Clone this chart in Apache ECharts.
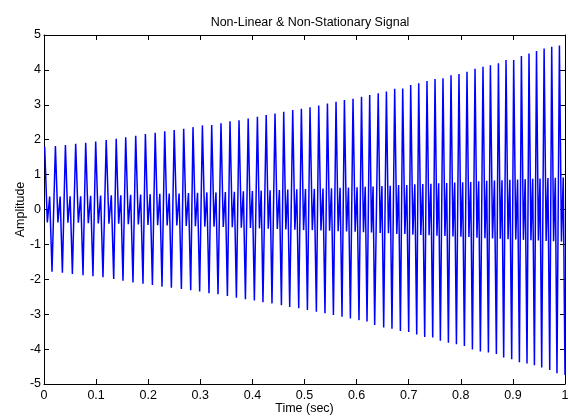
<!DOCTYPE html>
<html>
<head>
<meta charset="utf-8">
<script src="https://cdn.jsdelivr.net/npm/echarts@6/dist/echarts.min.js"></script>
<style>html,body{margin:0;padding:0;background:#fff;}#c{width:568px;height:416px;}</style>
</head>
<body>
<div id="c"></div>
<script>
// Big positive peaks (time in s, amplitude)
const peakT = [0.0013,0.0219,0.0411,0.0608,0.0800,0.0992,0.1194,0.1386,0.1568,0.1760,
  0.1946,0.2134,0.2317,0.2499,0.2681,0.2860,0.3040,0.3219,0.3397,0.3570,
  0.3743,0.3919,0.4096,0.4265,0.4434,0.4601,0.4774,0.4940,0.5106,0.5273,
  0.5440,0.5605,0.5766,0.5931,0.6094,0.6251,0.6415,0.6572,0.6731,0.6885,
  0.7038,0.7192,0.7351,0.7505,0.7658,0.7812,0.7965,0.8119,0.8273,0.8426,
  0.8568,0.8722,0.8868,0.9015,0.9163,0.9309,0.9453,0.9599,0.9745,0.9893];
const peakV = [1.80,1.82,1.85,1.88,1.91,1.95,1.99,2.03,2.07,2.11,
  2.16,2.20,2.24,2.28,2.31,2.36,2.41,2.42,2.47,2.53,
  2.56,2.61,2.66,2.71,2.75,2.80,2.85,2.89,2.93,2.98,
  3.04,3.09,3.14,3.17,3.23,3.28,3.33,3.38,3.46,3.47,
  3.57,3.62,3.68,3.74,3.76,3.85,3.88,3.95,4.03,4.09,
  4.13,4.19,4.28,4.28,4.40,4.47,4.54,4.61,4.66,4.70];
// Small notch inside each falling stroke (low then high)
const notchLowT = [0.0064,0.0267,0.0459,0.0659,0.0850,0.1042,0.1246,0.1433,0.1618,0.1810,
  0.1995,0.2181,0.2363,0.2549,0.2730,0.2906,0.3086,0.3263,0.3441,0.3614,
  0.3787,0.3962,0.4135,0.4305,0.4478,0.4642,0.4815,0.4982,0.5150,0.5316,
  0.5481,0.5646,0.5807,0.5972,0.6132,0.6286,0.6453,0.6611,0.6771,0.6926,
  0.7080,0.7233,0.7391,0.7542,0.7695,0.7849,0.8002,0.8156,0.8310,0.8463,
  0.8609,0.8758,0.8907,0.9055,0.9202,0.9346,0.9489,0.9638,0.9781,0.9932];
const notchHighT = [0.0109,0.0310,0.0502,0.0704,0.0895,0.1087,0.1292,0.1474,0.1663,0.1855,
  0.2038,0.2223,0.2404,0.2593,0.2773,0.2947,0.3126,0.3301,0.3481,0.3654,
  0.3827,0.4000,0.4169,0.4340,0.4518,0.4679,0.4852,0.5019,0.5189,0.5355,
  0.5518,0.5683,0.5844,0.6009,0.6166,0.6316,0.6486,0.6645,0.6806,0.6963,
  0.7117,0.7270,0.7426,0.7575,0.7729,0.7883,0.8036,0.8190,0.8343,0.8497,
  0.8646,0.8791,0.8942,0.9090,0.9236,0.9380,0.9521,0.9672,0.9814,0.9966];
const notchAmp = [0.37,0.37,0.38,0.38,0.39,0.40,0.41,0.41,0.42,0.43,
  0.44,0.45,0.46,0.46,0.47,0.48,0.49,0.49,0.50,0.51,
  0.52,0.53,0.54,0.55,0.56,0.57,0.58,0.59,0.59,0.60,
  0.61,0.62,0.63,0.64,0.65,0.66,0.67,0.68,0.70,0.70,
  0.72,0.73,0.74,0.75,0.76,0.77,0.78,0.79,0.81,0.82,
  0.83,0.84,0.85,0.86,0.87,0.88,0.89,0.90,0.91,0.92];
// Big negative troughs
const troughT = [0.0154,0.0353,0.0545,0.0749,0.0940,0.1132,0.1338,0.1516,0.1708,0.1900,
  0.2081,0.2265,0.2445,0.2637,0.2816,0.2988,0.3167,0.3340,0.3520,0.3693,
  0.3866,0.4038,0.4203,0.4376,0.4557,0.4716,0.4889,0.5056,0.5228,0.5393,
  0.5555,0.5720,0.5881,0.6046,0.6200,0.6347,0.6520,0.6679,0.6841,0.7000,
  0.7154,0.7307,0.7461,0.7608,0.7762,0.7916,0.8069,0.8223,0.8376,0.8530,
  0.8683,0.8823,0.8977,0.9125,0.9271,0.9413,0.9553,0.9707,0.9846,1.0000];
const troughV = [-1.78,-1.81,-1.85,-1.88,-1.91,-1.94,-1.99,-2.04,-2.09,-2.13,
  -2.16,-2.21,-2.24,-2.28,-2.31,-2.35,-2.40,-2.43,-2.48,-2.53,
  -2.57,-2.61,-2.66,-2.69,-2.74,-2.79,-2.83,-2.88,-2.93,-2.97,
  -3.02,-3.07,-3.12,-3.17,-3.21,-3.31,-3.38,-3.42,-3.48,-3.51,
  -3.58,-3.65,-3.67,-3.76,-3.82,-3.86,-3.91,-4.01,-4.07,-4.10,
  -4.14,-4.24,-4.29,-4.38,-4.41,-4.46,-4.53,-4.60,-4.69,-4.74];

const xTicks = [0,0.1,0.2,0.3,0.4,0.5,0.6,0.7,0.8,0.9,1];
const yTicks = [-5,-4,-3,-2,-1,0,1,2,3,4,5];

const signal = [];
for (let i = 0; i < peakT.length; i++) {
  signal.push([peakT[i], peakV[i]]);
  signal.push([notchLowT[i], -notchAmp[i]]);
  signal.push([notchHighT[i], notchAmp[i]]);
  signal.push([troughT[i], troughV[i]]);
}

const FONT = 'Liberation Sans, Arial, Helvetica, sans-serif';
const FS = 12.5;
const lineStyle = {color: '#000', width: 1};
const chart = echarts.init(document.getElementById('c'), null, {renderer: 'canvas'});
chart.setOption({
  animation: false,
  backgroundColor: '#fff',
  textStyle: {fontFamily: FONT},
  title: {
    text: 'Non-Linear & Non-Stationary Signal',
    left: 305, top: 11, textAlign: 'center',
    textStyle: {fontFamily: FONT, fontSize: FS, fontWeight: 'normal', color: '#000'}
  },
  grid: {left: 44, top: 35, width: 521, height: 349, containLabel: false, outerBoundsMode: 'none'},
  xAxis: [{
    type: 'value', min: xTicks[0], max: xTicks[xTicks.length - 1], interval: 0.1,
    position: 'bottom',
    name: 'Time (sec)', nameLocation: 'middle', nameGap: 18, nameMoveOverlap: false,
    nameTextStyle: {fontFamily: FONT, fontSize: FS, color: '#000'},
    axisLine: {show: true, onZero: false, lineStyle},
    axisTick: {show: true, inside: true, length: 5, lineStyle},
    axisLabel: {fontFamily: FONT, fontSize: FS, color: '#000', margin: 5},
    splitLine: {show: false}
  }, {
    type: 'value', min: xTicks[0], max: xTicks[xTicks.length - 1], interval: 0.1,
    position: 'top',
    axisLine: {show: true, onZero: false, lineStyle},
    axisTick: {show: true, inside: true, length: 5, lineStyle},
    axisLabel: {show: false},
    splitLine: {show: false}
  }],
  yAxis: [{
    type: 'value', min: yTicks[0], max: yTicks[yTicks.length - 1], interval: 1,
    position: 'left',
    name: 'Amplitude', nameLocation: 'middle', nameGap: 17, nameRotate: 90, nameMoveOverlap: false,
    nameTextStyle: {fontFamily: FONT, fontSize: FS, color: '#000'},
    axisLine: {show: true, onZero: false, lineStyle},
    axisTick: {show: true, inside: true, length: 5, lineStyle},
    axisLabel: {fontFamily: FONT, fontSize: FS, color: '#000', margin: 3},
    splitLine: {show: false}
  }, {
    type: 'value', min: yTicks[0], max: yTicks[yTicks.length - 1], interval: 1,
    position: 'right',
    axisLine: {show: true, onZero: false, lineStyle},
    axisTick: {show: true, inside: true, length: 5, lineStyle},
    axisLabel: {show: false},
    splitLine: {show: false}
  }],
  series: [{
    type: 'line',
    xAxisIndex: 0, yAxisIndex: 0,
    data: signal,
    showSymbol: false,
    symbol: 'none',
    sampling: false,
    lineStyle: {color: '#0000ff', width: 1.5},
    itemStyle: {color: '#0000ff'},
    clip: true
  }]
});
</script>
</body>
</html>
